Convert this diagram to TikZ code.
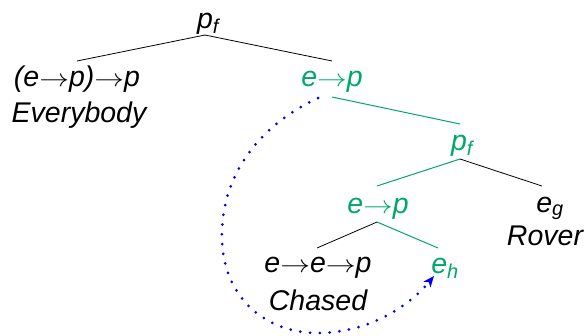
\documentclass[tikz,border=0pt]{standalone}
\usepackage{amsmath}
\usepackage{graphicx}
\usepackage{fontspec}
\setmainfont{Liberation Sans}
\usetikzlibrary{arrows.meta}
\definecolor{tgreen}{RGB}{0,168,104}
\definecolor{tblue}{RGB}{0,0,240}
\newcommand\rar{\scalebox{1.2}[1]{$\mathord{\rightarrow}$}}
\newcommand\sbs[1]{\ensuremath{_{\textit{#1}}}}
\begin{document}
\begin{tikzpicture}[x=1bp,y=-1bp,
  lbl/.style={anchor=base,inner sep=0pt,font=\fontsize{28.5bp}{34bp}\selectfont\itshape},
  glbl/.style={lbl,text=tgreen},
  bedge/.style={draw=black,line width=0.8bp},
  gedge/.style={draw=tgreen,line width=1bp},
  dotarrow/.style={draw=tblue,line width=3bp,line cap=round,dash pattern=on 0pt off 9.8bp,
     -{Stealth[length=11bp,width=9bp,inset=3bp]}}]
\useasboundingbox (0,0) rectangle (587,335);
% labels
\node[lbl]  (top)   at (208,28)  {p\sbs{f}};
\node[lbl]  (lt)    at (77,86)   {(e\rar p)\rar p};
\node[lbl]  (every) at (79,122)  {Everybody};
\node[glbl] (gep1)  at (332,86)  {e\rar p};
\node[glbl] (gpf)   at (462,150) {p\sbs{f}};
\node[glbl] (gep2)  at (378,213) {e\rar p};
\node[lbl]  (eg)    at (550,212) {e\sbs{g}};
\node[lbl]  (rover) at (545,245) {Rover};
\node[lbl]  (eep)   at (318,272) {e\rar e\rar p};
\node[lbl]  (chased) at (318,310) {Chased};
\node[glbl] (eh)    at (445,273) {e\sbs{h}};
% edge endpoints
\coordinate (a0) at (205,35);
\coordinate (a1) at (77,61);
\coordinate (a2) at (332,61);
\coordinate (b0) at (332,97);
\coordinate (b1) at (460,124);
\coordinate (c0) at (460,159);
\coordinate (c1) at (377,186);
\coordinate (c2) at (542,186);
\coordinate (d0) at (377,222);
\coordinate (d1) at (317,248);
\coordinate (d2) at (438,248);
\draw[bedge] (a1) -- (a0) -- (a2);
\draw[gedge] (b0) -- (b1);
\draw[gedge] (c1) -- (c0);
\draw[bedge] (c0) -- (c2);
\draw[bedge] (d1) -- (d0);
\draw[gedge] (d0) -- (d2);
% dotted movement arrow
\coordinate (s) at (318,98);
\coordinate (m1) at (222,240);
\coordinate (m2) at (317,333);
\coordinate (e) at (434,276);
\draw[dotarrow] (s) .. controls (260,125) and (220,175) .. (m1)
   .. controls (224,300) and (268,333) .. (m2)
   .. controls (370,333) and (410,305) .. (e);
\end{tikzpicture}
\end{document}
